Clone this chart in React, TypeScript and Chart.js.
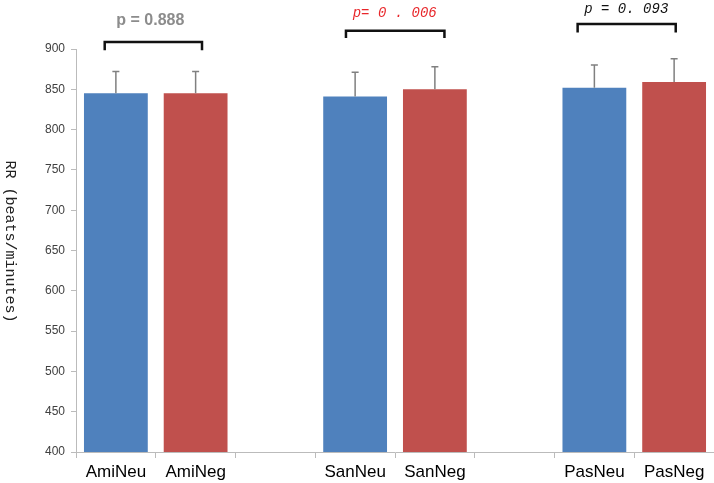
import React, { useEffect, useRef } from "react";
import { Chart, registerables } from "chart.js";

Chart.register(...registerables);

// ---- data ----
const categories: string[] = ["AmiNeu", "AmiNeg", "", "SanNeu", "SanNeg", "", "PasNeu", "PasNeg"];
const rrMeans: (number | null)[] = [845, 845, null, 841, 850, null, 852, 859];
const rrErrors: (number | null)[] = [27, 27, null, 30, 28, null, 28, 29];
const barColors: string[] = ["#4F81BD", "#C0504D", "#ffffff", "#4F81BD", "#C0504D", "#ffffff", "#4F81BD", "#C0504D"];
const yTicksMin = 400;
const yTicksMax = 900;
const yTicksStep = 50;
const yTitle = "RR (beats/minutes)";

// significance brackets (category index units / value units)
const bracketFrom: number[] = [-0.14, 2.885, 5.79];
const bracketTo: number[] = [1.08, 4.12, 7.02];
const bracketTop: number[] = [908.7, 922.7, 931];
const bracketLeg: number[] = [900, 915.3, 922];

// p-value labels
const pLabels: string[] = ["p = 0.888", "p= 0 . 006", "p = 0. 093"];
const pLabelX: number[] = [0.432, 3.496, 6.4];
const pLabelY: number[] = [929.3, 939.8, 944.7];
const pLabelColors: string[] = ["#8c8c8c", "#e8262a", "#111111"];
const pLabelFonts: string[] = [
  "bold 16px 'Liberation Sans', Arial, sans-serif",
  "italic 14px 'Liberation Mono', 'DejaVu Sans Mono', monospace",
  "italic 14px 'Liberation Mono', 'DejaVu Sans Mono', monospace",
];

const errorBarPlugin = {
  id: "errorBars",
  afterDatasetsDraw(chart: any) {
    const ctx = chart.ctx;
    const meta = chart.getDatasetMeta(0);
    const y = chart.scales.y;
    ctx.save();
    ctx.strokeStyle = "#808080";
    ctx.lineWidth = 1.5;
    meta.data.forEach((bar: any, i: number) => {
      const v = rrMeans[i];
      const e = rrErrors[i];
      if (v == null || e == null) return;
      const y0 = y.getPixelForValue(v);
      const y1 = y.getPixelForValue(v + e);
      ctx.beginPath();
      ctx.moveTo(bar.x, y0);
      ctx.lineTo(bar.x, y1);
      ctx.moveTo(bar.x - 3.5, y1);
      ctx.lineTo(bar.x + 3.5, y1);
      ctx.stroke();
    });
    ctx.restore();
  },
};

const annotationPlugin = {
  id: "brackets",
  afterDraw(chart: any) {
    const ctx = chart.ctx;
    const x = chart.scales.x;
    const y = chart.scales.y;
    const catW = (x.right - x.left) / categories.length;
    const px = (c: number) => x.left + (c + 0.5) * catW;
    ctx.save();
    ctx.strokeStyle = "#111111";
    ctx.lineWidth = 2.5;
    ctx.lineCap = "square";
    for (let i = 0; i < bracketFrom.length; i++) {
      const xa = px(bracketFrom[i]);
      const xb = px(bracketTo[i]);
      const yt = y.getPixelForValue(bracketTop[i]);
      const yl = y.getPixelForValue(bracketLeg[i]);
      ctx.beginPath();
      ctx.moveTo(xa, yl);
      ctx.lineTo(xa, yt);
      ctx.lineTo(xb, yt);
      ctx.lineTo(xb, yl);
      ctx.stroke();
    }
    ctx.textAlign = "center";
    ctx.textBaseline = "alphabetic";
    for (let i = 0; i < pLabels.length; i++) {
      ctx.font = pLabelFonts[i];
      ctx.fillStyle = pLabelColors[i];
      ctx.fillText(pLabels[i], px(pLabelX[i]), y.getPixelForValue(pLabelY[i]));
    }
    // rotated y-axis title (reads top to bottom)
    const midY = (y.top + y.bottom) / 2 - 9;
    ctx.translate(10, midY);
    ctx.rotate(Math.PI / 2);
    ctx.font = "15px 'Liberation Mono', 'DejaVu Sans Mono', monospace";
    ctx.fillStyle = "#222222";
    ctx.textAlign = "center";
    ctx.textBaseline = "middle";
    ctx.fillText(yTitle, 0, 0);
    ctx.restore();
  },
};

export default function App() {
  const canvasRef = useRef<HTMLCanvasElement | null>(null);

  useEffect(() => {
    if (!canvasRef.current) return;
    const chart = new Chart(canvasRef.current, {
      type: "bar",
      data: {
        labels: categories,
        datasets: [
          {
            data: rrMeans as any,
            backgroundColor: barColors,
            borderWidth: 0,
            barPercentage: 0.8,
            categoryPercentage: 1,
          },
        ],
      },
      options: {
        responsive: false,
        animation: false,
        layout: { padding: { top: 49, left: 0, right: 0, bottom: 0 } },
        plugins: {
          legend: { display: false },
          tooltip: { enabled: false },
          title: { display: false },
        },
        scales: {
          x: {
            grid: {
              display: true,
              drawOnChartArea: false,
              drawTicks: true,
              tickLength: 6,
              color: "#bbbbbb",
              offset: true,
            },
            border: { display: true, color: "#bbbbbb", width: 1 },
            ticks: {
              color: "#000000",
              font: { family: "'Liberation Sans', Arial, sans-serif", size: 17 },
              padding: 4,
              maxRotation: 0,
              autoSkip: false,
            },
            afterFit(scale: any) {
              scale.height = 31;
            },
          },
          y: {
            min: yTicksMin,
            max: yTicksMax,
            grid: {
              display: true,
              drawOnChartArea: false,
              drawTicks: true,
              tickLength: 5,
              color: "#bbbbbb",
            },
            border: { display: true, color: "#bbbbbb", width: 1 },
            ticks: {
              stepSize: yTicksStep,
              color: "#404040",
              font: { family: "'Liberation Sans', Arial, sans-serif", size: 12 },
              padding: 6,
            },
            title: { display: false },
            afterFit(scale: any) {
              scale.width = 76;
            },
          },
        },
      },
      plugins: [errorBarPlugin, annotationPlugin],
    });
    return () => chart.destroy();
  }, []);

  return (
    <div style={{ position: "absolute", left: 0, top: 0, width: 714, height: 483, background: "#ffffff" }}>
      <canvas ref={canvasRef} width={714} height={483} style={{ display: "block" }} />
    </div>
  );
}
